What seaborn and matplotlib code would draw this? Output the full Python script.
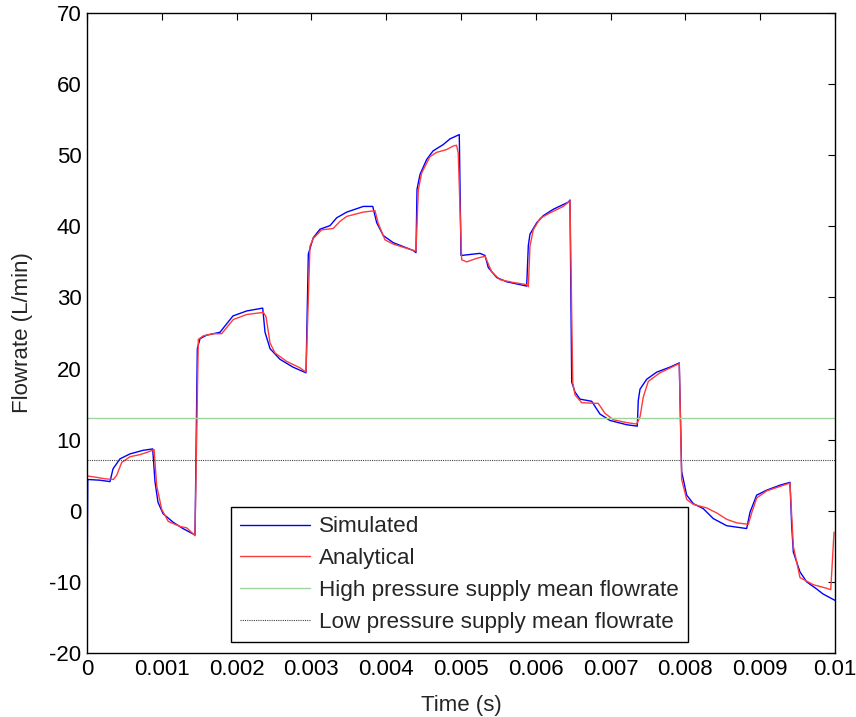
import numpy as np
import pandas as pd
import matplotlib
matplotlib.use("Agg")
import matplotlib.pyplot as plt
import seaborn as sns

# ---- data (time in ms, flow in L/min) ----
sim_t_ms = [0.0, 0.01, 0.174, 0.307, 0.348, 0.441, 0.575, 0.749, 0.878, 0.909, 0.949, 1.016, 1.150,
            1.283, 1.444, 1.475, 1.511, 1.600, 1.778, 1.845, 1.952, 2.135, 2.349, 2.380, 2.447,
            2.580, 2.754, 2.928, 2.959, 3.025, 3.115, 3.249, 3.338, 3.472, 3.694, 3.820, 3.873,
            3.961, 4.095, 4.362, 4.398, 4.412, 4.452, 4.541, 4.626, 4.763, 4.853, 4.977, 5.000,
            5.254, 5.321, 5.365, 5.477, 5.611, 5.745, 5.878, 5.900, 5.922, 6.012, 6.100, 6.234,
            6.434, 6.457, 6.480, 6.524, 6.591, 6.747, 6.858, 6.992, 7.215, 7.357, 7.370, 7.393,
            7.483, 7.617, 7.794, 7.918, 7.950, 8.017, 8.106, 8.239, 8.373, 8.552, 8.819, 8.864,
            8.953, 9.087, 9.265, 9.398, 9.421, 9.443, 9.532, 9.622, 9.755, 9.840, 10.0]
sim_q = [-12.5, 4.4, 4.3, 4.1, 5.9, 7.3, 8.0, 8.5, 8.7, 4.1, 1.2, -0.4, -1.6,
         -2.5, -3.4, 22.8, 24.2, 24.7, 25.1, 26.0, 27.4, 28.1, 28.5, 25.1, 22.8,
         21.3, 20.2, 19.4, 36.1, 38.4, 39.6, 40.1, 41.2, 42.0, 42.8, 42.8, 40.5,
         38.7, 37.7, 36.6, 36.3, 45.2, 47.3, 49.4, 50.6, 51.5, 52.3, 52.9, 35.9,
         36.2, 35.9, 34.2, 32.8, 32.2, 31.9, 31.6, 37.3, 38.9, 40.5, 41.5, 42.4,
         43.4, 43.7, 18.1, 16.7, 15.7, 15.4, 13.6, 12.7, 12.1, 11.9, 15.5, 17.1,
         18.5, 19.5, 20.2, 20.8, 5.5, 2.2, 1.0, 0.3, -1.1, -2.1, -2.5, -0.2,
         2.2, 2.9, 3.6, 4.0, -2.1, -5.8, -8.6, -10.0, -11.0, -11.7, -12.6]

ana_t_ms = [0.0, 0.130, 0.241, 0.352, 0.397, 0.464, 0.575, 0.709, 0.798, 0.897, 0.932, 0.999,
            1.087, 1.243, 1.333, 1.444, 1.488, 1.555, 1.688, 1.800, 1.956, 2.135, 2.358, 2.393,
            2.447, 2.513, 2.670, 2.848, 2.928, 2.981, 3.025, 3.137, 3.292, 3.382, 3.472, 3.694,
            3.850, 3.894, 3.984, 4.095, 4.398, 4.429, 4.474, 4.585, 4.674, 4.808, 4.897, 4.941,
            4.963, 5.009, 5.076, 5.210, 5.321, 5.410, 5.521, 5.701, 5.878, 5.900, 5.922, 5.966,
            6.056, 6.190, 6.368, 6.457, 6.494, 6.524, 6.613, 6.835, 6.925, 7.037, 7.215, 7.348,
            7.393, 7.437, 7.504, 7.660, 7.918, 7.950, 8.017, 8.106, 8.285, 8.418, 8.552, 8.686,
            8.842, 8.886, 8.953, 9.087, 9.398, 9.443, 9.532, 9.711, 9.889, 9.943, 9.987]
ana_q = [4.9, 4.7, 4.5, 4.4, 5.0, 6.8, 7.6, 7.9, 8.2, 8.6, 3.5, 0.2,
         -1.5, -2.2, -2.4, -3.5, 24.1, 24.6, 24.9, 24.9, 26.9, 27.6, 27.9, 27.3,
         23.6, 22.2, 21.0, 20.1, 19.5, 37.2, 38.3, 39.5, 39.7, 40.7, 41.4, 42.0,
         42.2, 40.4, 38.1, 37.5, 36.5, 45.1, 47.5, 49.8, 50.4, 50.8, 51.3, 51.4,
         50.3, 35.3, 35.0, 35.5, 35.8, 33.6, 32.5, 32.1, 31.8, 31.5, 37.2, 39.5,
         41.1, 41.9, 42.8, 43.6, 18.0, 16.3, 15.2, 15.1, 13.7, 12.8, 12.4, 12.2,
         13.2, 16.0, 18.2, 19.4, 20.7, 4.4, 1.6, 0.9, 0.4, -0.3, -1.2, -1.7,
         -1.9, -0.3, 1.8, 2.8, 3.9, -5.0, -9.4, -10.4, -10.9, -11.1, -3.0]

high_mean = 13.0
low_mean = 7.2

series_names = ["Simulated", "Analytical", "High pressure supply mean flowrate",
                "Low pressure supply mean flowrate"]
xticks = [0, 0.001, 0.002, 0.003, 0.004, 0.005, 0.006, 0.007, 0.008, 0.009, 0.01]
xtick_labels = ["0", "0.001", "0.002", "0.003", "0.004", "0.005", "0.006", "0.007",
                "0.008", "0.009", "0.01"]
yticks = [-20, -10, 0, 10, 20, 30, 40, 50, 60, 70]

# ---- build table ----
df = pd.concat([
    pd.DataFrame({"t": np.array(sim_t_ms) / 1000.0, "q": sim_q, "series": series_names[0]}),
    pd.DataFrame({"t": np.array(ana_t_ms) / 1000.0, "q": ana_q, "series": series_names[1]}),
], ignore_index=True)

sns.set_style("white")
plt.rcParams["font.family"] = ["Liberation Sans", "DejaVu Sans"]
plt.rcParams["axes.unicode_minus"] = False

fig = plt.figure(figsize=(8.56, 7.17), dpi=100)
ax = fig.add_axes([87 / 856, 1 - 653 / 717, (835 - 87) / 856, (653 - 13) / 717])

palette = {series_names[0]: "#0000ff", series_names[1]: "#ff3a3a"}
sns.lineplot(data=df, x="t", y="q", hue="series", palette=palette, sort=False,
             estimator=None, units="series", linewidth=1.0, ax=ax, legend=False)

ax.axhline(high_mean, color="#9fd49f", linewidth=1.0)
ax.axhline(low_mean, color="#444444", linewidth=0.8, linestyle=(0, (1, 1)))

ax.set_xlim(0, 0.01)
ax.set_ylim(-20, 70)
ax.set_xticks(xticks)
ax.set_xticklabels(xtick_labels)
ax.set_yticks(yticks)
ax.tick_params(direction="in", length=5, width=0.8, top=True, right=True,
               labelsize=16, colors="black", pad=4)
for s in ax.spines.values():
    s.set_visible(True)
    s.set_color("black")
    s.set_linewidth(1.0)

ax.set_xlabel("Time (s)", fontsize=16, labelpad=11)
ax.set_ylabel("Flowrate (L/min)", fontsize=16, labelpad=11.5)

from matplotlib.lines import Line2D
handles = [Line2D([], [], color="#0000ff", lw=1.0),
           Line2D([], [], color="#ff3a3a", lw=1.0),
           Line2D([], [], color="#9fd49f", lw=1.0),
           Line2D([], [], color="#444444", lw=0.8, linestyle=(0, (1, 1)))]
leg = ax.legend(handles, series_names, loc="upper left",
                bbox_to_anchor=(231 / 856, 1 - 507 / 717), bbox_transform=fig.transFigure,
                fontsize=16.2, frameon=True, fancybox=False, edgecolor="black",
                borderaxespad=0, borderpad=0.42, handlelength=3.1, handletextpad=0.37,
                labelspacing=0.48)
leg.get_frame().set_linewidth(1.0)
leg.get_frame().set_alpha(1.0)

fig.savefig("out.png", dpi=100)
